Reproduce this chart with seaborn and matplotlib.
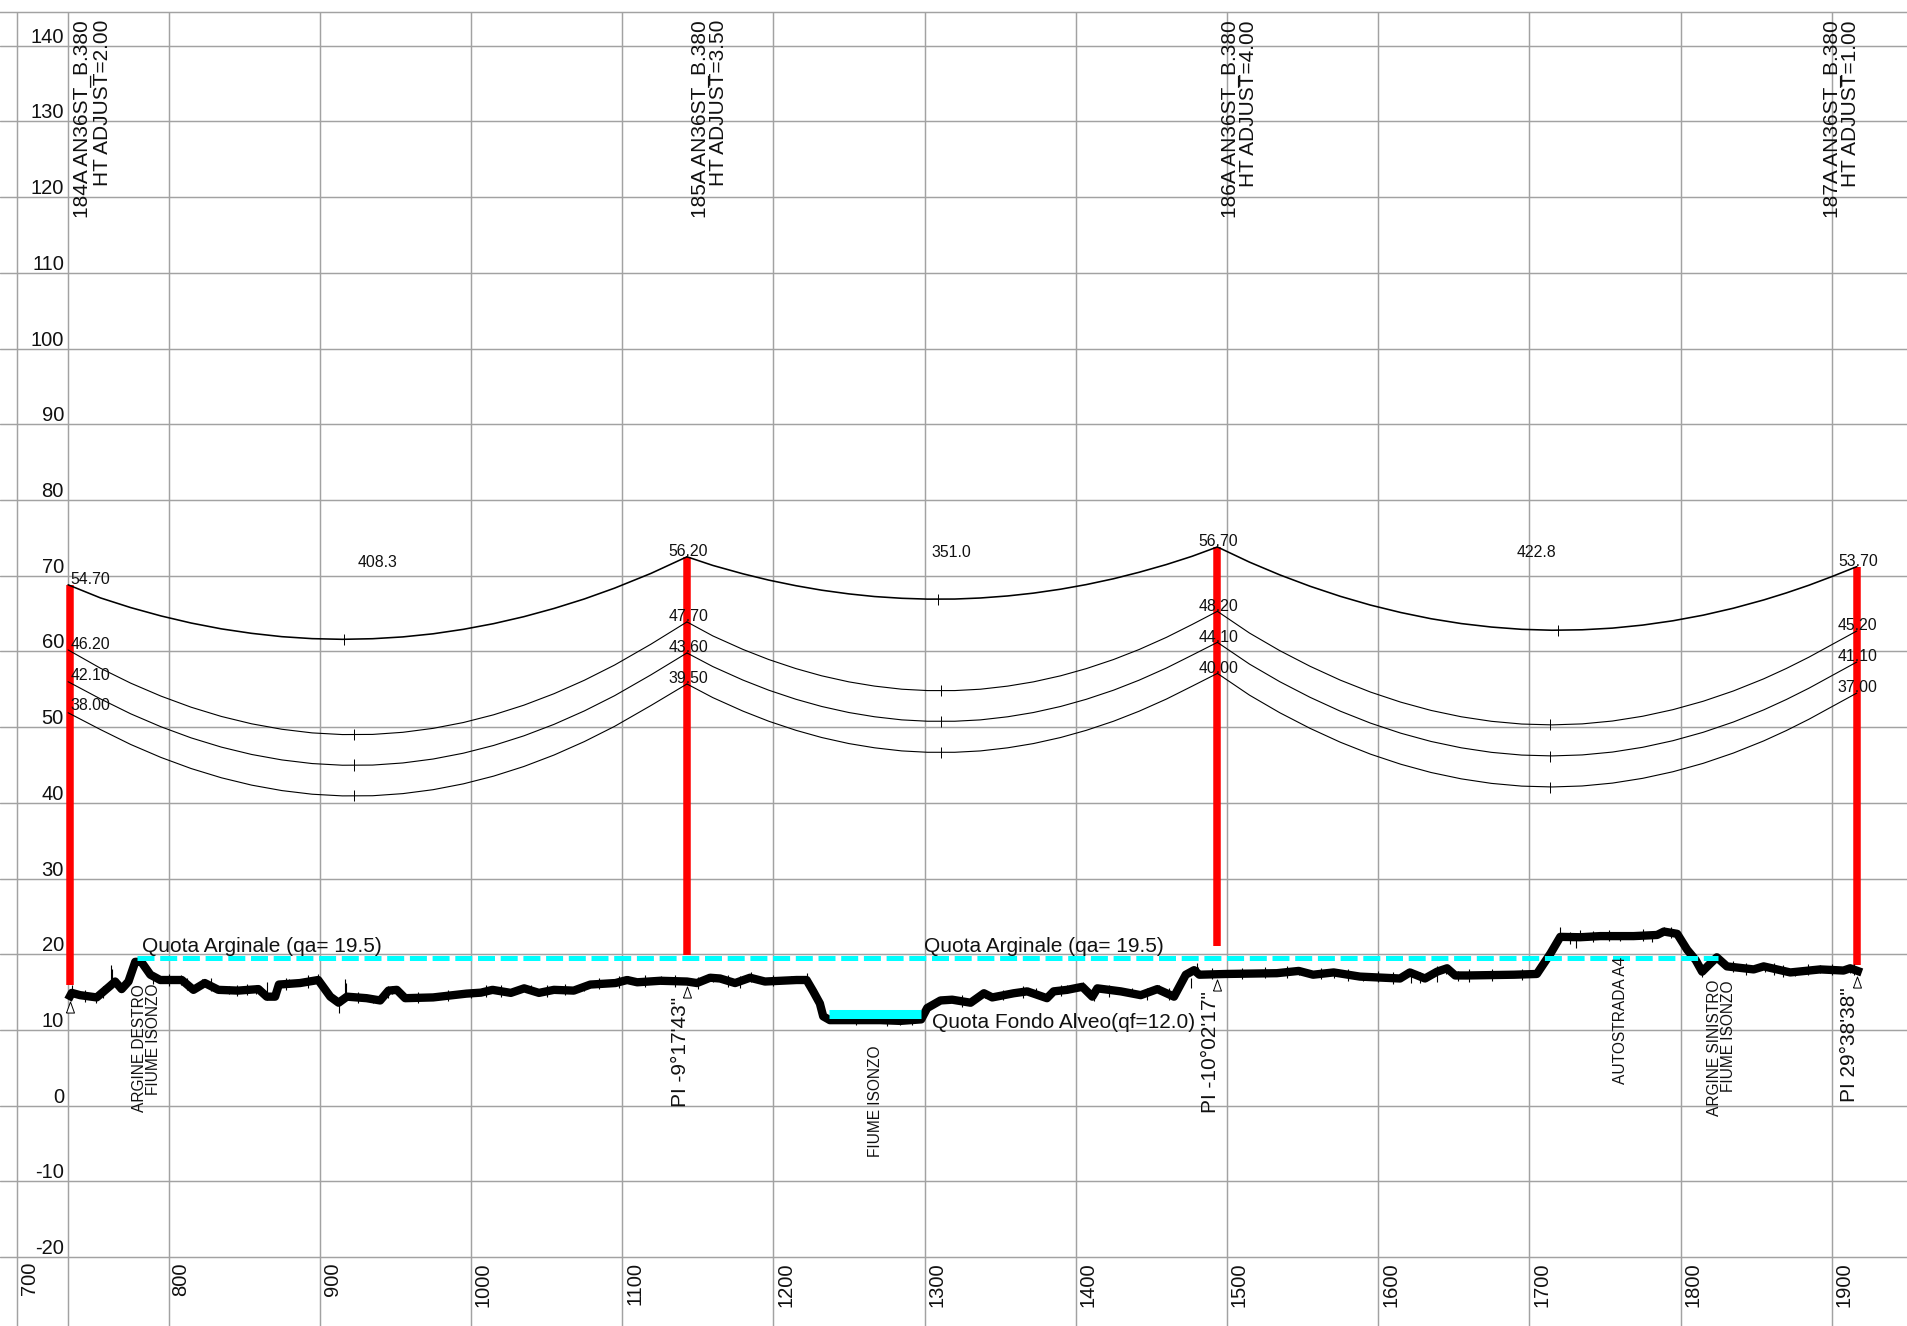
import numpy as np
import pandas as pd
import matplotlib
matplotlib.use("Agg")
import matplotlib.pyplot as plt
from matplotlib.transforms import ScaledTranslation
import seaborn as sns

# ---------- data ----------
x_ticks = [700, 800, 900, 1000, 1100, 1200, 1300, 1400, 1500, 1600, 1700, 1800, 1900]
y_ticks = [140, 130, 120, 110, 100, 90, 80, 70, 60, 50, 40, 30, 20, 10, 0, -10, -20]
start_chainage = 733.5

tower_x = [734.7, 1142.9, 1493.7, 1916.6]
tower_top = [68.8, 72.5, 73.8, 71.2]
tower_bottom = [15.95, 19.9, 21.1, 18.6]
tower_ground_mark = [13.0, 15.0, 15.9, 16.3]

tower_names = ["184A AN36ST_B.380", "185A AN36ST_B.380", "186A AN36ST_B.380", "187A AN36ST_B.380"]
tower_names_x = [743.0, 1151.7, 1502.2, 1900.3]
tower_adjust = ["HT ADJUST=2.00", "HT ADJUST=3.50", "HT ADJUST=4.00", "HT ADJUST=1.00"]
tower_adjust_x = [756.2, 1163.6, 1514.1, 1912.2]

height_labels = [["54.70", "46.20", "42.10", "38.00"],
                 ["56.20", "47.70", "43.60", "39.50"],
                 ["56.70", "48.20", "44.10", "40.00"],
                 ["53.70", "45.20", "41.10", "37.00"]]
height_label_x = [735.4, 1143.8, 1494.5, 1917.3]
height_label_y = [[68.9, 60.3, 56.2, 52.2],
                  [72.6, 64.0, 59.9, 55.8],
                  [73.9, 65.4, 61.3, 57.2],
                  [71.3, 62.8, 58.7, 54.7]]

span_labels = ["408.3", "351.0", "422.8"]
span_label_x = [938.5, 1318.0, 1704.5]
span_label_y = [71.7, 73.05, 73.1]

span1_x = [733.6, 755, 775, 795, 815, 835, 855, 875, 895, 915, 935, 955, 975, 995, 1015, 1035, 1055, 1075, 1095, 1119, 1142.9]
span1_c1 = [68.8, 67.07, 65.79, 64.69, 63.75, 62.98, 62.39, 61.95, 61.69, 61.6, 61.68, 61.92, 62.33, 62.92, 63.67, 64.59, 65.68, 66.93, 68.36, 70.3, 72.5]
span1_c2 = [60.2, 57.78, 55.81, 54.1, 52.63, 51.41, 50.44, 49.72, 49.24, 49.02, 49.04, 49.32, 49.84, 50.61, 51.63, 52.9, 54.42, 56.19, 58.2, 60.95, 63.9]
span1_c3 = [56.0, 53.73, 51.76, 50.05, 48.58, 47.36, 46.39, 45.67, 45.19, 44.97, 44.99, 45.27, 45.79, 46.56, 47.58, 48.85, 50.37, 52.14, 54.15, 56.9, 59.8]
span1_c4 = [51.9, 49.68, 47.71, 46.0, 44.53, 43.31, 42.34, 41.62, 41.14, 40.92, 40.94, 41.22, 41.74, 42.51, 43.53, 44.8, 46.32, 48.09, 50.1, 52.85, 55.7]

span2_x = [1142.9, 1160, 1180, 1197, 1215, 1232, 1250, 1267, 1285, 1302, 1320, 1337, 1355, 1372, 1390, 1407, 1425, 1442, 1460, 1477, 1493.7]
span2_c1 = [72.5, 71.36, 70.25, 69.42, 68.68, 68.09, 67.6, 67.25, 67.02, 66.91, 66.92, 67.06, 67.33, 67.7, 68.22, 68.83, 69.6, 70.46, 71.48, 72.57, 73.8]
span2_c2 = [63.9, 62.05, 60.26, 58.93, 57.73, 56.78, 55.98, 55.42, 55.01, 54.83, 54.83, 55.01, 55.42, 55.98, 56.78, 57.73, 58.93, 60.26, 61.86, 63.56, 65.3]
span2_c3 = [59.8, 58.0, 56.21, 54.88, 53.68, 52.73, 51.93, 51.37, 50.96, 50.78, 50.78, 50.96, 51.37, 51.93, 52.73, 53.68, 54.88, 56.21, 57.81, 59.51, 61.2]
span2_c4 = [55.7, 53.9, 52.11, 50.78, 49.58, 48.63, 47.83, 47.27, 46.86, 46.68, 46.68, 46.86, 47.27, 47.83, 48.63, 49.58, 50.78, 52.11, 53.71, 55.41, 57.1]

span3_x = [1493.7, 1515, 1535, 1555, 1575, 1595, 1615, 1635, 1655, 1675, 1695, 1715, 1735, 1755, 1775, 1795, 1815, 1835, 1855, 1870, 1885, 1900, 1916.6]
span3_c1 = [73.8, 71.79, 70.11, 68.61, 67.28, 66.12, 65.14, 64.32, 63.68, 63.22, 62.92, 62.8, 62.86, 63.08, 63.48, 64.05, 64.79, 65.71, 66.8, 67.73, 68.75, 69.88, 71.2]
span3_c2 = [65.3, 62.42, 60.1, 58.04, 56.21, 54.63, 53.3, 52.21, 51.37, 50.77, 50.41, 50.3, 50.43, 50.81, 51.44, 52.31, 53.42, 54.78, 56.38, 57.75, 59.25, 60.89, 62.7]
span3_c3 = [61.2, 58.32, 56.0, 53.94, 52.11, 50.53, 49.2, 48.11, 47.27, 46.67, 46.31, 46.2, 46.33, 46.71, 47.34, 48.21, 49.32, 50.68, 52.28, 53.65, 55.15, 56.79, 58.6]
span3_c4 = [57.1, 54.22, 51.9, 49.84, 48.01, 46.43, 45.1, 44.01, 43.17, 42.57, 42.21, 42.1, 42.23, 42.61, 43.24, 44.11, 45.22, 46.58, 48.18, 49.55, 51.05, 52.69, 54.5]

low_point_x = [916, 923, 923, 923, 1309, 1311, 1311, 1311, 1719, 1714, 1714, 1714]
low_point_y = [61.6, 49.0, 45.0, 41.0, 66.9, 54.8, 50.8, 46.7, 62.8, 50.3, 46.1, 42.0]

ground_x = [733.6, 736, 741.5, 752.5, 761.3, 764.7, 769, 773.5, 778, 782, 788, 794.5, 808.8, 816.5,
            824, 833, 846, 859.5, 865, 870.5, 873, 887, 899, 907, 912.5, 918, 931, 940, 945.5, 951,
            956.5, 975, 997, 1006.6, 1014.3, 1026.4, 1035.2, 1045, 1054.9, 1068, 1079, 1095.6, 1103.3,
            1110, 1125.3, 1142.9, 1149.5, 1158.2, 1164.8, 1174.7, 1184.6, 1194.5, 1215.4, 1222, 1226.4,
            1230.8, 1233, 1237.4, 1270.9, 1284, 1297.8, 1301.8, 1310.6, 1318.3, 1330.5, 1339.3, 1344.8,
            1359, 1367.9, 1381, 1385.4, 1394.3, 1404.4, 1411, 1414.3, 1429.8, 1443, 1454, 1465, 1472.8,
            1478.3, 1481.8, 1500, 1533, 1547.5, 1557, 1570.6, 1588, 1614.5, 1621, 1631, 1639, 1645.6,
            1651, 1659, 1690, 1705, 1714, 1720.5, 1733.7, 1747, 1769, 1784.5, 1789, 1797.8, 1804.4,
            1810, 1814.3, 1818.8, 1824, 1830.7, 1848.4, 1855, 1872.6, 1892.4, 1907.8, 1912.2, 1919.9]
ground_y = [14.0, 14.9, 14.6, 14.3, 15.8, 16.4, 15.4, 16.4, 19.0, 19.0, 17.3, 16.6, 16.6, 15.3,
            16.2, 15.3, 15.2, 15.4, 14.4, 14.4, 16.0, 16.2, 16.6, 14.4, 13.6, 14.4, 14.2, 13.9, 15.2, 15.3,
            14.2, 14.3, 14.8, 14.93, 15.3, 14.9, 15.5, 14.9, 15.3, 15.2, 16.0, 16.2, 16.6,
            16.3, 16.5, 16.4, 16.2, 16.9, 16.8, 16.2, 16.9, 16.4, 16.6, 16.6, 15.1,
            13.5, 11.8, 11.3, 11.3, 11.2, 11.4, 12.9, 13.9, 14.0, 13.6, 14.85, 14.3,
            14.85, 15.1, 14.2, 15.1, 15.3, 15.7, 14.4, 15.5, 15.1, 14.6, 15.4, 14.4, 17.3,
            17.9, 17.3, 17.4, 17.5, 17.8, 17.3, 17.6, 17.05, 16.8, 17.6, 16.8, 17.7, 18.15,
            17.2, 17.2, 17.3, 17.4, 20.1, 22.3, 22.25, 22.4, 22.4, 22.55, 23.0, 22.7, 20.6,
            19.25, 17.7, 18.6, 19.6, 18.4, 18.0, 18.4, 17.6, 18.0, 17.85, 18.15, 17.6]

spike_x = [736, 762, 762.6, 865, 899, 912.5, 917, 917.6, 752, 790, 808, 822, 840, 858, 880, 935,
           948, 1000, 1040, 1075, 1104, 1126, 1160, 1185, 1212, 1222, 1284, 1340, 1374, 1394, 1405,
           1412, 1437, 1455, 1476, 1480.5, 1481, 1548, 1571, 1590, 1622, 1639, 1645, 1653, 1720.5,
           1733.7, 1731, 1760, 1781, 1789, 1814.3, 1825, 1856, 1876, 1892, 1912,
           745, 757, 775, 800, 812, 828, 845, 852, 878, 892, 925, 945, 965, 985, 1010, 1020, 1050, 1062,
           1085, 1098, 1115, 1135, 1150, 1170, 1178, 1200, 1255, 1275, 1292, 1325, 1352, 1365, 1390, 1422,
           1447, 1462, 1490, 1510, 1525, 1540, 1562, 1580, 1600, 1610, 1628, 1660, 1675, 1695, 1727, 1742,
           1753, 1775, 1794, 1835, 1843, 1862, 1868, 1884, 1900, 1915]
spike_lo = [14.5, 16.0, 16.0, 14.0, 16.0, 12.2, 14.8, 14.8, 13.6, 16.1, 16.0, 15.5, 14.8, 14.8, 15.7, 13.6,
            14.7, 14.2, 14.9, 15.2, 16.3, 16.1, 16.4, 16.3, 16.2, 16.3, 10.6, 14.2, 14.4, 14.9, 15.3,
            13.8, 14.6, 14.9, 15.6, 17.5, 17.5, 17.2, 16.8, 16.5, 16.2, 16.4, 17.4, 16.5, 22.0,
            22.0, 20.8, 21.8, 21.6, 22.8, 17.0, 19.0, 17.7, 17.1, 17.5, 17.5,
            13.7, 14.2, 16.2, 15.8, 15.3, 15.2, 14.5, 14.6, 15.3, 15.6, 13.6, 14.2, 13.5, 13.8, 14.3, 14.4, 14.3, 14.6,
            15.4, 15.6, 15.7, 15.7, 15.4, 15.7, 15.6, 15.8, 10.6, 10.5, 10.6, 13.0, 13.9, 14.2, 14.5, 14.4,
            14.0, 14.0, 16.7, 16.7, 16.8, 16.9, 16.7, 16.5, 16.3, 16.1, 16.2, 16.4, 16.5, 16.6, 21.4, 21.6,
            21.7, 21.7, 22.1, 17.6, 17.3, 17.3, 17.0, 17.2, 17.2, 17.2]
spike_hi = [15.9, 18.6, 18.0, 16.4, 17.4, 14.0, 16.7, 16.2, 14.9, 17.7, 17.2, 16.7, 15.8, 16.0, 16.7, 14.5,
            15.8, 15.2, 16.0, 15.8, 17.1, 17.1, 17.4, 17.6, 17.1, 17.5, 11.7, 15.3, 15.6, 15.9, 16.3,
            15.0, 15.6, 15.9, 16.9, 18.9, 18.3, 18.2, 18.0, 17.5, 18.0, 18.4, 18.6, 17.8, 23.6,
            23.2, 22.4, 22.9, 23.0, 23.6, 18.4, 20.0, 18.9, 18.1, 18.6, 18.6,
            15.3, 15.8, 17.8, 17.4, 16.8, 16.8, 16.0, 16.1, 16.9, 17.2, 15.0, 15.8, 15.0, 15.3, 15.9, 15.9, 15.9, 16.1,
            16.9, 17.1, 17.2, 17.3, 17.0, 17.3, 17.1, 17.3, 12.1, 12.0, 12.1, 14.6, 15.3, 15.8, 16.0, 16.0,
            15.6, 15.5, 18.2, 18.2, 18.3, 18.4, 18.2, 18.1, 17.8, 17.6, 17.7, 18.0, 18.0, 18.1, 23.0, 23.1,
            23.2, 23.3, 23.6, 19.1, 18.9, 18.8, 18.6, 18.7, 18.7, 18.7]

arginale_x = [779, 1824.8]
arginale_y = [19.47, 19.47]
fondo_x = [1237, 1297.5]
fondo_y = [12.05, 12.05]

notes_big = ["Quota Arginale (qa= 19.5)", "Quota Arginale (qa= 19.5)", "Quota Fondo Alveo(qf=12.0)"]
notes_big_x = [782.3, 1299.7, 1304.8]
notes_big_y = [20.35, 20.3, 10.3]

angle_labels = ["PI -9°17'43\"", "PI -10°02'17\"", "PI 29°38'38\""]
angle_x = [1138.8, 1489.0, 1911.9]
angle_y = [-0.2, -0.9, 0.45]

site_labels = ["ARGINE DESTRO", "FIUME ISONZO", "FIUME ISONZO", "AUTOSTRADA A4", "ARGINE SINISTRO", "FIUME ISONZO"]
site_x = [781.1, 790.4, 1267.3, 1760.4, 1822.5, 1831.6]
site_top = [16.1, 16.1, 8.0, 19.7, 16.6, 16.6]

# ---------- figure ----------
sns.set_theme(style="white")
plt.rcParams["font.family"] = ["Liberation Sans", "DejaVu Sans"]
GRID = "#a2a2a2"
W, H = 1907, 1326
fig = plt.figure(figsize=(W / 100, H / 100), dpi=100, facecolor="white")
ax = fig.add_axes([0, 0, 1, (H - 11.7) / H])
ax.set_xlim(688.55, 1949.8)
ax.set_ylim(-29.1, 144.5)
ax.set_xticks(x_ticks)
ax.set_yticks(y_ticks)
ax.set_xticklabels([])
ax.set_yticklabels([str(v) for v in y_ticks])
ax.grid(True, color=GRID, lw=1.05)
ax.set_axisbelow(True)
ax.axvline(start_chainage, color=GRID, lw=1.05, zorder=1)
sns.despine(ax=ax, left=True, right=True, bottom=True, top=False)
ax.spines["top"].set_color(GRID)
ax.spines["top"].set_linewidth(1.05)

ax.tick_params(axis="y", length=0, pad=-46, labelsize=14.5, labelcolor="#111111")
ax.tick_params(axis="x", length=0)
up = ScaledTranslation(0, 3 / 100, fig.dpi_scale_trans)
for lab in ax.get_yticklabels():
    lab.set_va("baseline")
    lab.set_transform(lab.get_transform() + up)
TXT = "#111111"
right = ScaledTranslation(3 / 100, 0, fig.dpi_scale_trans)
for v in x_ticks:
    ax.text(v, -20.65, str(v), rotation=90, ha="left", va="top", fontsize=14.5, color=TXT,
            transform=ax.transData + right)

# ground profile
sns.lineplot(x=ground_x, y=ground_y, sort=False, estimator=None, color="black", lw=6.0, ax=ax,
             zorder=4, solid_joinstyle="round", solid_capstyle="butt")
ax.vlines(spike_x, spike_lo, spike_hi, color="black", lw=0.8, zorder=4)

# conductors
spans = [(span1_x, [span1_c1, span1_c2, span1_c3, span1_c4]),
         (span2_x, [span2_c1, span2_c2, span2_c3, span2_c4]),
         (span3_x, [span3_c1, span3_c2, span3_c3, span3_c4])]
for sx, conductors in spans:
    for i, cy in enumerate(conductors):
        sns.lineplot(x=sx, y=cy, sort=False, estimator=None, color="black",
                     lw=1.15 if i == 0 else 0.8, ax=ax, zorder=5)
ax.vlines(low_point_x, np.array(low_point_y) - 0.73, np.array(low_point_y) + 0.73,
          color="black", lw=0.7, zorder=5)

# towers
ax.vlines(tower_x, tower_bottom, tower_top, color="#ff0000", lw=5.4, zorder=3)
tri = [(-0.36, -0.5), (0.36, -0.5), (0, 0.5), (-0.36, -0.5)]
ax.plot(tower_x, tower_ground_mark, ls="none", marker=tri, ms=8, mfc="white", mec="black",
        mew=0.7, zorder=3)

# reference levels
ax.plot(arginale_x, arginale_y, color="#00ffff", lw=3.6, ls=(0, (3.4, 1.14)), zorder=6)
ax.plot(fondo_x, fondo_y, color="#00ffff", lw=6.5, solid_capstyle="butt", zorder=6)

for name, nx, adj, ax_x in zip(tower_names, tower_names_x, tower_adjust, tower_adjust_x):
    ax.text(nx, 143.4, name, rotation=90, ha="center", va="top", fontsize=15, color=TXT, zorder=7)
    ax.text(ax_x, 143.4, adj, rotation=90, ha="center", va="top", fontsize=15, color=TXT, zorder=7)

for i, (labs, lx, lys) in enumerate(zip(height_labels, height_label_x, height_label_y)):
    for t, ly in zip(labs, lys):
        ax.text(lx, ly, t, ha="left" if i == 0 else "center", va="baseline", fontsize=11.4,
                color=TXT, zorder=7)

for t, sx, sy in zip(span_labels, span_label_x, span_label_y):
    ax.text(sx, sy, t, ha="center", va="center", fontsize=11.4, color=TXT, zorder=7)

for t, nx, ny in zip(notes_big, notes_big_x, notes_big_y):
    ax.text(nx, ny, t, ha="left", va="baseline", fontsize=15, color=TXT, zorder=7)

for t, nx, ny in zip(angle_labels, angle_x, angle_y):
    ax.text(nx, ny, t, rotation=90, ha="center", va="bottom", fontsize=15, color=TXT, zorder=7)

for t, nx, ny in zip(site_labels, site_x, site_top):
    ax.text(nx, ny, t, rotation=90, ha="center", va="top", fontsize=11.2, color=TXT, zorder=7)

fig.savefig("out.png", dpi=100, facecolor="white")
